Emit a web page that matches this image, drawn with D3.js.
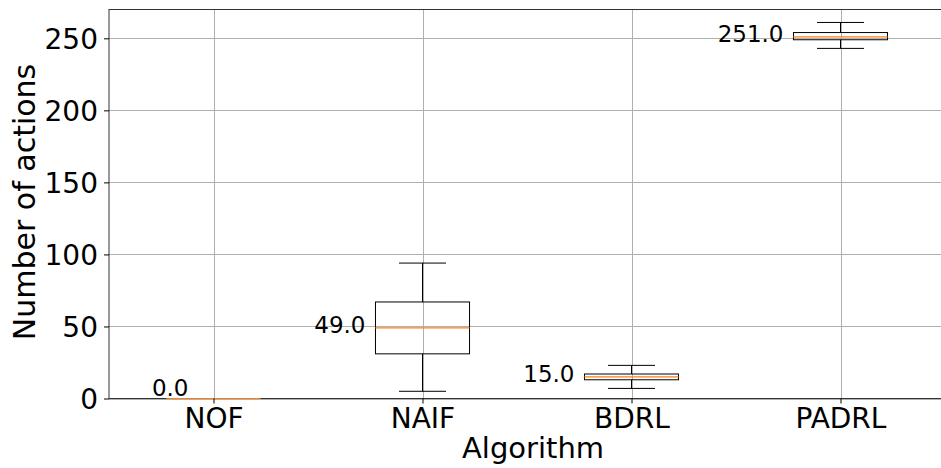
<!DOCTYPE html>
<html>
<head>
	<title>Number of actions per algorithm</title>
	<script src="https://cdn.jsdelivr.net/npm/d3@7"></script>
	<style>
		body { margin: 0; background: #fff; }
		text { font-family: "DejaVu Sans", sans-serif; fill: #000; }
	</style>
</head>
<body>
	<div id="chart"></div>
	<script type="text/javascript">

		// box statistics
		var algorithms = ["NOF", "NAIF", "BDRL", "PADRL"];
		var whiskLow  = [0, 5, 7, 243];
		var q1        = [0, 31, 13, 249];
		var medians   = [0, 49, 15, 251];
		var q3        = [0, 67, 17, 254];
		var whiskHigh = [0, 94, 23, 261];
		var yTicks = [0, 50, 100, 150, 200, 250];

		var w = 941;
		var h = 468;
		// plot area edges (window.top is read only, so no "top")
		var plotL = 109, plotR = 945, plotT = 9.5, plotB = 398.5;

		var svg = d3.select("#chart")
			.append("svg")
			.attr("width", w)
			.attr("height", h);

		// positions 1..n like matplotlib boxplot
		var x = d3.scaleLinear().domain([0.5, algorithms.length + 0.5]).range([plotL, plotR]);
		var y = d3.scaleLinear().domain([0, 270]).range([plotB, plotT]);

		var boxW = x(1.45) - x(1);   // 0.45 wide box
		var capW = boxW / 2;

		// grid
		svg.append("g").selectAll("line")
			.data(yTicks)
			.enter().append("line")
			.attr("x1", plotL).attr("x2", plotR)
			.attr("y1", function(d) { return Math.round(y(d)) + 0.5; })
			.attr("y2", function(d) { return Math.round(y(d)) + 0.5; })
			.attr("stroke", "#b0b0b0").attr("stroke-width", 1);

		svg.append("g").selectAll("line")
			.data(algorithms)
			.enter().append("line")
			.attr("x1", function(d, i) { return Math.round(x(i + 1)) + 0.5; })
			.attr("x2", function(d, i) { return Math.round(x(i + 1)) + 0.5; })
			.attr("y1", plotT).attr("y2", plotB)
			.attr("stroke", "#b0b0b0").attr("stroke-width", 1);

		// spines
		svg.append("rect")
			.attr("x", plotL).attr("y", plotT)
			.attr("width", plotR - plotL).attr("height", plotB - plotT)
			.attr("fill", "none")
			.attr("stroke", "#333")
			.attr("stroke-width", 1);

		// boxes
		var boxes = svg.append("g").selectAll("g")
			.data(algorithms)
			.enter().append("g");

		// whiskers
		boxes.append("line")
			.attr("x1", function(d, i) { return x(i + 1); })
			.attr("x2", function(d, i) { return x(i + 1); })
			.attr("y1", function(d, i) { return y(whiskLow[i]); })
			.attr("y2", function(d, i) { return y(q1[i]); })
			.attr("stroke", "#000");
		boxes.append("line")
			.attr("x1", function(d, i) { return x(i + 1); })
			.attr("x2", function(d, i) { return x(i + 1); })
			.attr("y1", function(d, i) { return y(q3[i]); })
			.attr("y2", function(d, i) { return y(whiskHigh[i]); })
			.attr("stroke", "#000");

		// caps
		[whiskLow, whiskHigh].forEach(function(arr) {
			boxes.append("line")
				.attr("x1", function(d, i) { return x(i + 1) - capW / 2; })
				.attr("x2", function(d, i) { return x(i + 1) + capW / 2; })
				.attr("y1", function(d, i) { return y(arr[i]); })
				.attr("y2", function(d, i) { return y(arr[i]); })
				.attr("stroke", "#000");
		});

		boxes.append("rect")
			.attr("x", function(d, i) { return x(i + 1) - boxW / 2; })
			.attr("y", function(d, i) { return y(q3[i]); })
			.attr("width", boxW)
			.attr("height", function(d, i) { return y(q1[i]) - y(q3[i]); })
			.attr("fill", "none")
			.attr("stroke", "#000");

		boxes.append("line")
			.attr("x1", function(d, i) { return x(i + 1) - boxW / 2; })
			.attr("x2", function(d, i) { return x(i + 1) + boxW / 2; })
			.attr("y1", function(d, i) { return y(medians[i]); })
			.attr("y2", function(d, i) { return y(medians[i]); })
			.attr("stroke", "#ff7f0e")
			.attr("stroke-width", 1.2);

		// median labels, the zero one is lifted above the axis
		boxes.append("text")
			.text(function(d, i) { return medians[i].toFixed(1); })
			.attr("x", function(d, i) {
				return medians[i] === 0 ? x(i + 1) - 25 : x(i + 1) - 57;
			})
			.attr("y", function(d, i) {
				return medians[i] === 0 ? y(medians[i]) - 2.5 : y(medians[i]) + 5;
			})
			.attr("text-anchor", "end")
			.attr("font-size", "23px");

		// axes
		var yAxis = d3.axisLeft(y).tickValues(yTicks).tickSize(5).tickPadding(6);
		var gy = svg.append("g")
			.attr("transform", "translate(" + plotL + ",0)")
			.call(yAxis);

		var xAxis = d3.axisBottom(x)
			.tickValues(algorithms.map(function(d, i) { return i + 1; }))
			.tickFormat(function(d) { return algorithms[d - 1]; })
			.tickSize(5).tickPadding(5);
		var gx = svg.append("g")
			.attr("transform", "translate(0," + plotB + ")")
			.call(xAxis);

		[gx, gy].forEach(function(g) {
			g.select(".domain").remove();
			g.selectAll("text").attr("font-size", "28px").attr("font-family", "DejaVu Sans").attr("fill", "#000");
			g.selectAll(".tick line").attr("stroke", "#000");
		});
		gy.selectAll("text").attr("dy", "0.36em");

		svg.append("text")
			.text("Algorithm")
			.attr("x", (plotL + plotR) / 2 + 6)
			.attr("y", 458)
			.attr("text-anchor", "middle")
			.attr("font-size", "29px");

		svg.append("text")
			.text("Number of actions")
			.attr("transform", "translate(35," + ((plotT + plotB) / 2 - 2) + ") rotate(-90)")
			.attr("text-anchor", "middle")
			.attr("font-size", "30px");

    </script>
</body>
</html>
